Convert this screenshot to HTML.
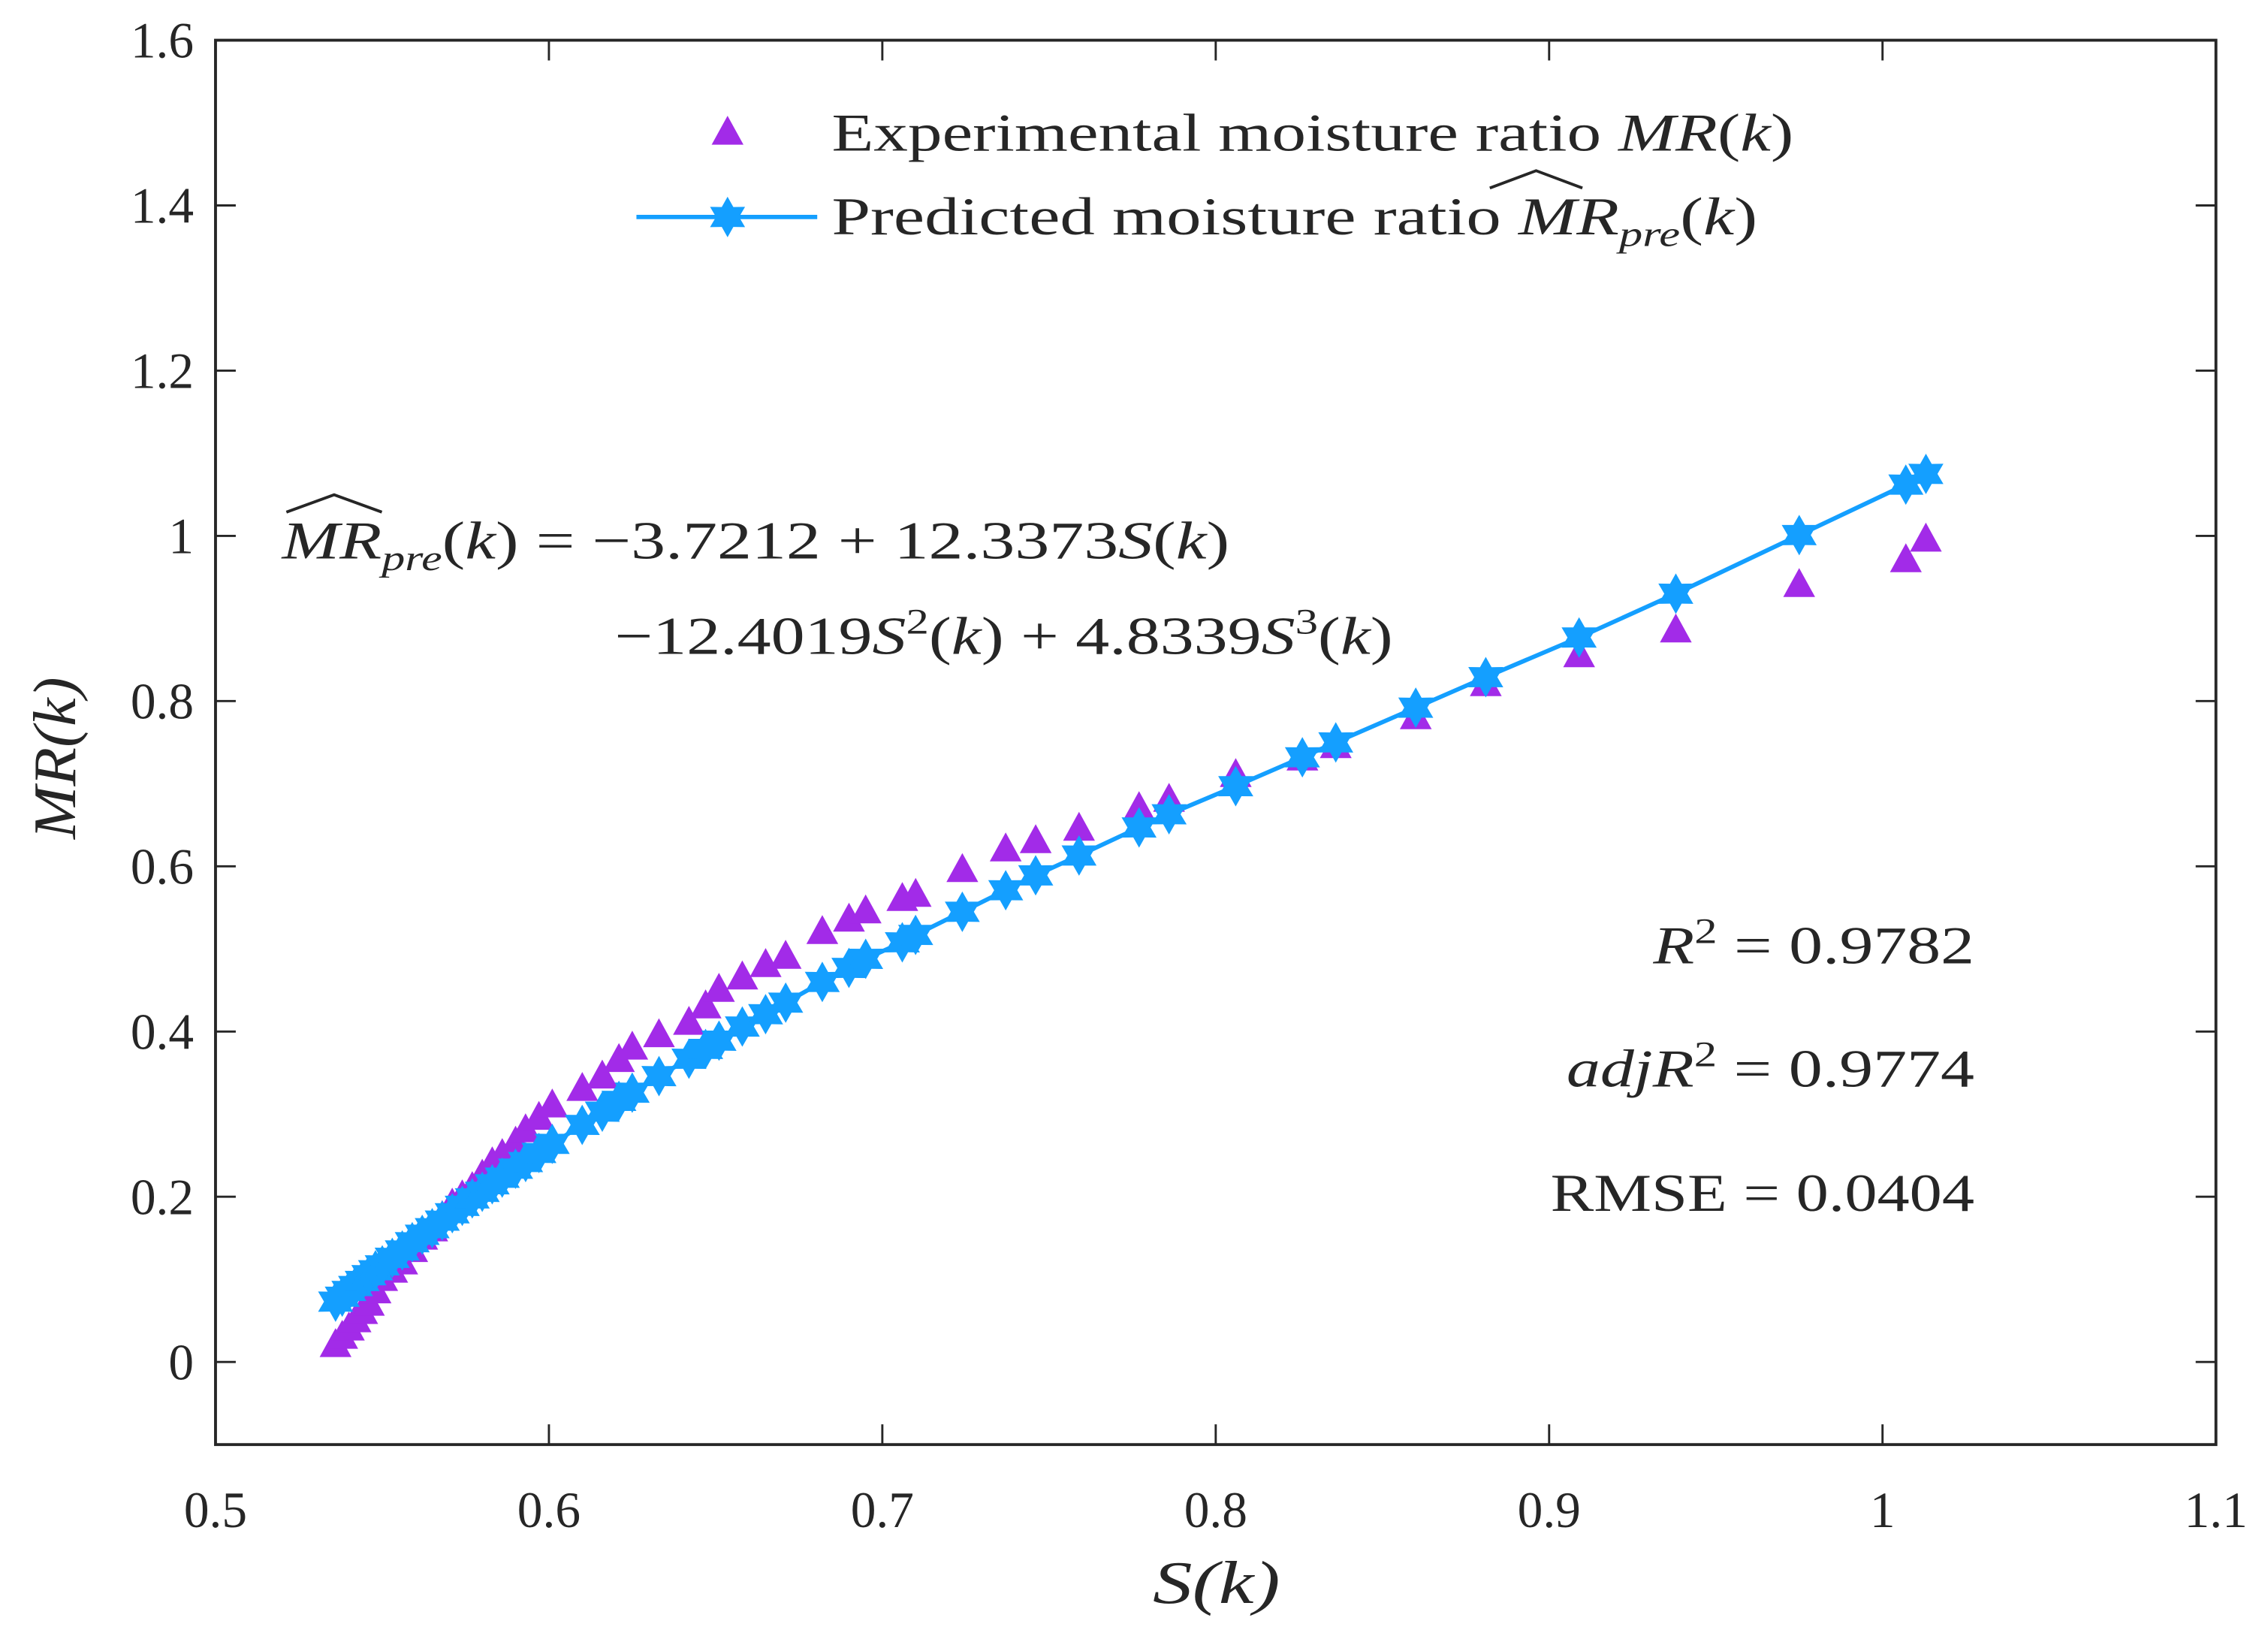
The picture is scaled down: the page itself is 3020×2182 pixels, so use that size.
<!DOCTYPE html>
<html><head><meta charset="utf-8"><style>
html,body{margin:0;padding:0;background:#fff;}
svg{display:block;}
text{font-family:"Liberation Serif",serif;fill:#262626;}
</style></head><body>
<svg id="chart" width="3020" height="2182" viewBox="0 0 1568 1133" preserveAspectRatio="none" xmlns="http://www.w3.org/2000/svg">
<rect x="0" y="0" width="1568" height="1133" fill="#fff"/>
<g id="marks"></g>
<rect x="149" y="27.8" width="1383" height="970.8" fill="none" stroke="#262626" stroke-width="2"/>
<g id="axes"></g>
<text x="797" y="1108" font-size="42" font-style="italic" textLength="88" lengthAdjust="spacingAndGlyphs">S(k)</text>
<text transform="translate(52,580) rotate(-90)" font-size="42" font-style="italic" textLength="112" lengthAdjust="spacingAndGlyphs">MR(k)</text>
<g>
<g id="legend-exp"></g>
<text x="575" y="104" font-size="37" textLength="665" lengthAdjust="spacingAndGlyphs">Experimental moisture ratio <tspan font-style="italic">MR</tspan>(<tspan font-style="italic">k</tspan>)</text>
<g id="legend-pre"></g>
<text x="575" y="162" font-size="37" textLength="640" lengthAdjust="spacingAndGlyphs">Predicted moisture ratio <tspan font-style="italic">MR</tspan><tspan font-style="italic" font-size="25" dy="8">pre</tspan><tspan dy="-8">(</tspan><tspan font-style="italic">k</tspan>)</text>
<path d="M1030 130 L1062 118 L1094 130" fill="none" stroke="#262626" stroke-width="2"/>
</g>
<g>
<text x="195" y="386" font-size="37" textLength="655" lengthAdjust="spacingAndGlyphs"><tspan font-style="italic">MR</tspan><tspan font-style="italic" font-size="25" dy="8">pre</tspan><tspan dy="-8">(</tspan><tspan font-style="italic">k</tspan>) = −3.7212 + 12.3373<tspan font-style="italic">S</tspan>(<tspan font-style="italic">k</tspan>)</text>
<path d="M198 354 L231 342 L264 354" fill="none" stroke="#262626" stroke-width="2"/>
<text x="425" y="452" font-size="37" textLength="538" lengthAdjust="spacingAndGlyphs">−12.4019<tspan font-style="italic">S</tspan><tspan font-size="25" dy="-14">2</tspan><tspan dy="14">(</tspan><tspan font-style="italic">k</tspan>) + 4.8339<tspan font-style="italic">S</tspan><tspan font-size="25" dy="-14">3</tspan><tspan dy="14">(</tspan><tspan font-style="italic">k</tspan>)</text>
</g>
<g>
<text x="1143" y="666" font-size="37" textLength="222" lengthAdjust="spacingAndGlyphs"><tspan font-style="italic">R</tspan><tspan font-size="25" dy="-14">2</tspan><tspan dy="14"> = 0.9782</tspan></text>
<text x="1083" y="751" font-size="37" textLength="282" lengthAdjust="spacingAndGlyphs"><tspan font-style="italic">adjR</tspan><tspan font-size="25" dy="-14">2</tspan><tspan dy="14"> = 0.9774</tspan></text>
<text x="1072" y="837" font-size="37" textLength="293" lengthAdjust="spacingAndGlyphs">RMSE = 0.0404</text>
</g>
</svg>
<script>
const sValues=[0.536,0.538,0.540,0.542,0.544,0.546,0.548,0.550,0.553,0.556,0.559,0.562,0.565,0.568,0.571,0.574,0.577,0.580,0.583,0.586,0.590,0.593,0.597,0.601,0.610,0.616,0.621,0.625,0.633,0.642,0.647,0.651,0.658,0.665,0.671,0.682,0.690,0.695,0.706,0.710,0.724,0.737,0.746,0.759,0.777,0.786,0.806,0.826,0.836,0.860,0.881,0.909,0.938,0.975,1.007,1.013];
const mrExperimental=[0.02,0.03,0.04,0.05,0.06,0.07,0.085,0.10,0.11,0.12,0.135,0.15,0.16,0.175,0.19,0.20,0.21,0.225,0.24,0.25,0.265,0.28,0.295,0.31,0.33,0.345,0.365,0.38,0.395,0.41,0.43,0.45,0.465,0.48,0.49,0.52,0.535,0.545,0.56,0.565,0.595,0.62,0.63,0.645,0.67,0.68,0.71,0.73,0.745,0.78,0.82,0.855,0.885,0.94,0.97,0.995];
const mrPredicted=[0.073,0.079,0.086,0.092,0.098,0.105,0.111,0.117,0.126,0.135,0.145,0.154,0.162,0.171,0.180,0.189,0.198,0.206,0.215,0.223,0.234,0.242,0.253,0.264,0.287,0.303,0.316,0.326,0.346,0.367,0.379,0.389,0.406,0.421,0.435,0.460,0.477,0.488,0.508,0.517,0.545,0.571,0.589,0.613,0.647,0.663,0.697,0.732,0.750,0.792,0.829,0.877,0.930,1.001,1.062,1.075];
const xTicks=[0.5,0.6,0.7,0.8,0.9,1,1.1];
const yTicks=[0,0.2,0.4,0.6,0.8,1,1.2,1.4,1.6];
const xTickLabels=["0.5","0.6","0.7","0.8","0.9","1","1.1"];
const yTickLabels=["0","0.2","0.4","0.6","0.8","1","1.2","1.4","1.6"];

const X0=149,X1=1532,Y0=998.6,Y1=27.8;
function xs(v){return X0+(v-0.5)/(1.1-0.5)*(X1-X0);}
function ys(v){return Y0-(v+0.1)/(1.6+0.1)*(Y0-Y1);}
const NS="http://www.w3.org/2000/svg";
const marks=document.getElementById('marks');
const axes=document.getElementById('axes');
function mk(tag,attrs,parent){const e=document.createElementNS(NS,tag);for(const k in attrs)e.setAttribute(k,attrs[k]);parent.appendChild(e);return e;}
function triPts(cx,cy){const r=11;return (cx)+","+(cy-12)+" "+(cx-r)+","+(cy+8)+" "+(cx+r)+","+(cy+8);}
function starPts(cx,cy){const p=[];for(let i=0;i<12;i++){const a=-Math.PI/2+i*Math.PI/6;const r=i%2?8:14;p.push((cx+r*Math.cos(a)).toFixed(1)+","+(cy+r*Math.sin(a)).toFixed(1));}return p.join(" ");}
const PURPLE="#A22BE8",BLUE="#149FFF";

xTicks.forEach((t,i)=>{
  const x=xs(t);
  const tb=mk('line',{x1:x,y1:Y0,x2:x,y2:Y0-14,stroke:'#262626','stroke-width':1.5},axes);
  
  
  const tt=mk('line',{x1:x,y1:Y1,x2:x,y2:Y1+14,stroke:'#262626','stroke-width':1.5},axes);
  
  
  const lb=mk('text',{x:x,y:Y0+57,'font-size':35,'text-anchor':'middle'},axes);
  lb.textContent=xTickLabels[i];
  
  
});
yTicks.forEach((t,i)=>{
  const y=ys(t);
  const tl=mk('line',{x1:X0,y1:y,x2:X0+14,y2:y,stroke:'#262626','stroke-width':1.5},axes);
  
  
  const tr=mk('line',{x1:X1,y1:y,x2:X1-14,y2:y,stroke:'#262626','stroke-width':1.5},axes);
  
  
  const lb=mk('text',{x:X0-15,y:y+12,'font-size':35,'text-anchor':'end'},axes);
  lb.textContent=yTickLabels[i];
  
  
});

sValues.forEach((s,i)=>{
  const t=mk('polygon',{points:triPts(xs(s),ys(mrExperimental[i])),fill:PURPLE},marks);
  
  
});
const line=mk('polyline',{points:sValues.map((s,i)=>xs(s).toFixed(1)+","+ys(mrPredicted[i]).toFixed(1)).join(" "),fill:'none',stroke:BLUE,'stroke-width':3},marks);


sValues.forEach((s,i)=>{
  const st=mk('polygon',{points:starPts(xs(s),ys(mrPredicted[i])),fill:BLUE},marks);
  
  
});

const le=document.getElementById('legend-exp');
const lt=mk('polygon',{points:triPts(503,92),fill:PURPLE},le);


const lp=document.getElementById('legend-pre');
const ll=mk('line',{x1:440,y1:150,x2:565,y2:150,stroke:BLUE,'stroke-width':3},lp);


const ls=mk('polygon',{points:starPts(503,150),fill:BLUE},lp);


</script>
</body></html>
